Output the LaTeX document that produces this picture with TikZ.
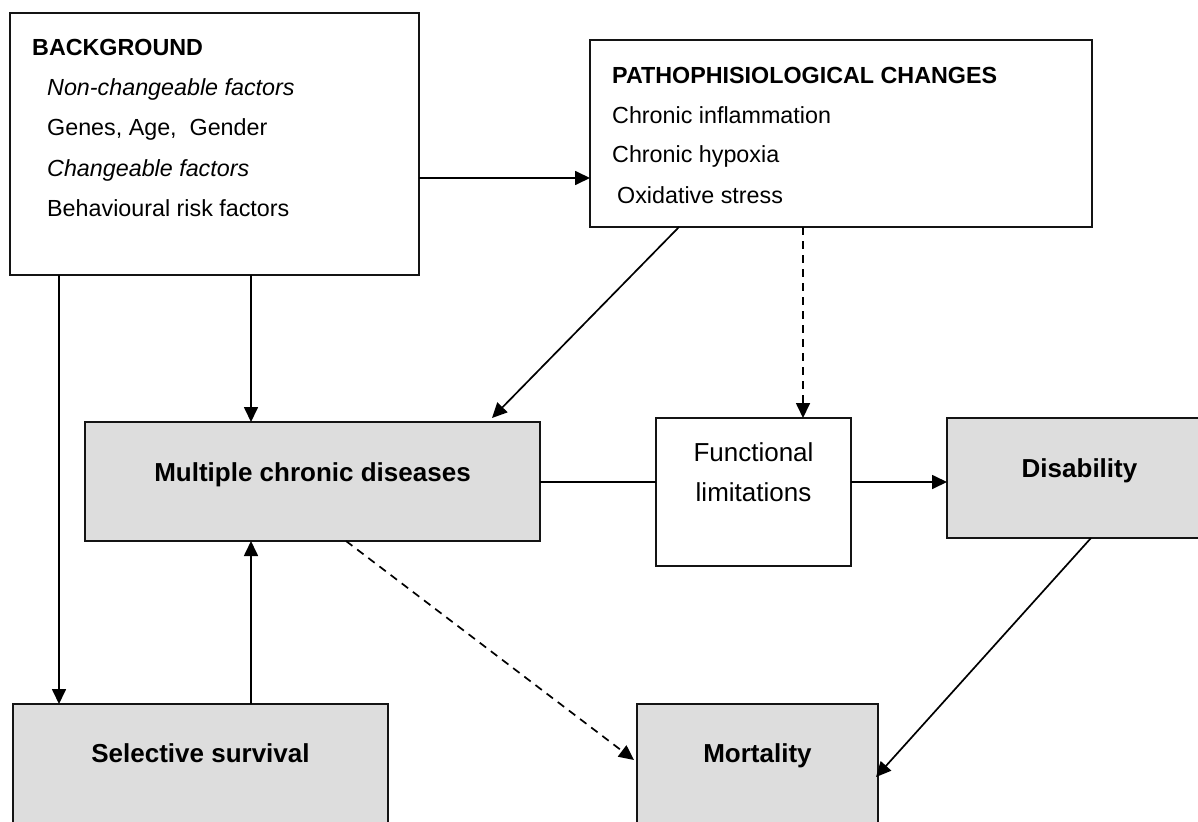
\documentclass[tikz,border=0pt]{standalone}
\usepackage{fontspec}
\setmainfont{Liberation Sans}
\usetikzlibrary{arrows.meta,calc}
\definecolor{boxgray}{RGB}{221,221,221}
\definecolor{edgecol}{RGB}{20,20,20}
\tikzset{
 box/.style={draw=edgecol, line width=2pt, rectangle, outer sep=0pt, inner sep=0pt, anchor=north west},
 graybox/.style={box, fill=boxgray},
 whitebox/.style={box, fill=white},
 smalltxt/.style={inner sep=0pt, anchor=base west, font=\fontsize{23.3pt}{28pt}\selectfont},
 bigtxt/.style={inner sep=0pt, anchor=base, font=\fontsize{26pt}{31pt}\selectfont},
 arr/.style={line width=1.7pt, draw=black, -{Triangle[length=15pt,width=14pt]}},
 dasharr/.style={arr, dash pattern=on 8pt off 6pt},
 plainline/.style={line width=1.7pt, draw=black},
}
\begin{document}
\begin{tikzpicture}[x=1pt,y=-1pt]
\useasboundingbox (0,0) rectangle (1198,821);
\fill[white] (0,0) rectangle (1198,821);
\clip (0,0) rectangle (1198,821);

% boxes
\node[whitebox, minimum width=409pt, minimum height=262pt] (bg) at (10,13) {};
\node[whitebox, minimum width=502pt, minimum height=187pt] (patho) at (590,40) {};
\node[graybox, minimum width=455pt, minimum height=119pt] (mcd) at (85,422) {};
\node[whitebox, minimum width=195pt, minimum height=148pt] (fl) at (656,418) {};
\node[graybox, minimum width=265pt, minimum height=120pt] (dis) at (947,418) {};
\node[graybox, minimum width=375pt, minimum height=140pt] (ss) at (13,704) {};
\node[graybox, minimum width=241pt, minimum height=140pt] (mort) at (637,704) {};

% texts
\node[smalltxt] (bg1) at (32,56) {\bfseries BACKGROUND};
\node[smalltxt] (bg2) at (47,96) {\itshape Non-changeable factors};
\node[smalltxt] (bg3) at (47,136) {Genes, Age,~ Gender};
\node[smalltxt] (bg4) at (47,176) {\itshape Changeable factors};
\node[smalltxt] (bg5) at (47,216) {Behavioural risk factors};

\node[smalltxt] (pa1) at (612,84) {\bfseries PATHOPHISIOLOGICAL CHANGES};
\node[smalltxt] (pa2) at (612,124) {Chronic inflammation};
\node[smalltxt] (pa3) at (612,163) {Chronic hypoxia};
\node[smalltxt] (pa4) at (617,203) {Oxidative stress};

\node[bigtxt] (mcdt) at (312.5,481) {\bfseries Multiple chronic diseases};
\node[bigtxt] (flt1) at (753.5,461) {Functional};
\node[bigtxt] (flt2) at (753.5,501) {limitations};
\node[bigtxt] (dist) at (1079.5,477) {\bfseries Disability};
\node[bigtxt] (sst) at (200.5,762) {\bfseries Selective survival};
\node[bigtxt] (mortt) at (757.5,762) {\bfseries Mortality};

% connectors
\draw[arr] ($(bg.north east)+(0,165)$) -- ($(patho.north west)+(0,138)$);
\draw[arr] ($(bg.south west)+(241,0)$) -- ($(mcd.north west)+(166,0)$);
\draw[arr] ($(bg.south west)+(49,0)$) -- ($(ss.north west)+(46,0)$);
\draw[arr] ($(ss.north west)+(238,0)$) -- ($(mcd.south west)+(166,0)$);
\draw[arr] ($(patho.south west)+(89,0)$) -- ($(mcd.north east)+(-48,-4)$);
\draw[dasharr] ($(patho.south west)+(213,0)$) -- ($(fl.north west)+(147,0)$);
\draw[plainline] ($(mcd.north east)+(0,60)$) -- ($(fl.north west)+(0,64)$);
\draw[arr] ($(fl.north east)+(0,64)$) -- ($(dis.north west)+(0,64)$);
\draw[arr] ($(dis.south west)+(144,0)$) -- ($(mort.north east)+(-2,73)$);
\draw[dasharr] ($(mcd.south west)+(261,0)$) -- ($(mort.north west)+(-3,56)$);
\end{tikzpicture}
\end{document}
